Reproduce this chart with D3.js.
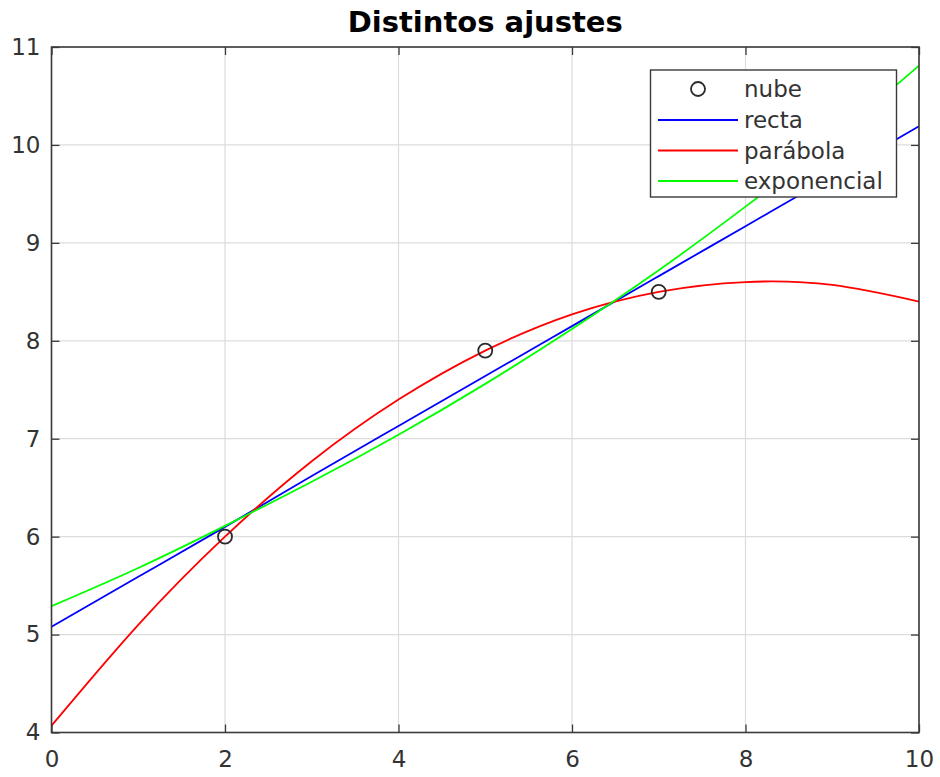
<!DOCTYPE html>
<html><head><meta charset="utf-8">
<script src="https://cdn.jsdelivr.net/npm/d3@7"></script>
<style>
body{margin:0;background:#fff;}
svg{display:block;font-family:"DejaVu Sans",sans-serif;}
</style></head>
<body><svg id="c" width="940" height="777"></svg>
<script>
const title = "Distintos ajustes";
const cloudX = [2, 5, 7];
const cloudY = [6.0, 7.9, 8.5];
const fitX = [0, 1, 2, 3, 4, 5, 6, 7, 8, 9, 10];
const recta = [5.08, 5.59, 6.10, 6.62, 7.13, 7.64, 8.15, 8.66, 9.17, 9.68, 10.19];
const parabola = [4.07, 5.10, 6.00, 6.77, 7.40, 7.90, 8.27, 8.50, 8.60, 8.57, 8.40];
const exponencial = [5.29, 5.68, 6.11, 6.56, 7.04, 7.56, 8.12, 8.72, 9.37, 10.06, 10.81];
const xTicks = [0, 2, 4, 6, 8, 10];
const yTicks = [4, 5, 6, 7, 8, 9, 10, 11];
const legendLabels = ["nube", "recta", "parábola", "exponencial"];
const colors = {recta: "#0000ff", parabola: "#ff0000", exponencial: "#00ff00"};

const L = 51.5, R = 919, T = 47, B = 732.5;
const svg = d3.select("#c");
const x = d3.scaleLinear().domain([0, 10]).range([L, R]);
const y = d3.scaleLinear().domain([4, 11]).range([B, T]);
const axisCol = "#3a3a3a", gridCol = "#dcdcdc", textCol = "#333";

// grid
svg.append("g").selectAll("line").data(xTicks).join("line")
  .attr("x1", d => x(d)).attr("x2", d => x(d)).attr("y1", T).attr("y2", B)
  .attr("stroke", gridCol).attr("stroke-width", 1.2);
svg.append("g").selectAll("line").data(yTicks).join("line")
  .attr("y1", d => y(d)).attr("y2", d => y(d)).attr("x1", L).attr("x2", R)
  .attr("stroke", gridCol).attr("stroke-width", 1.2);

// curves
svg.append("clipPath").attr("id", "clip").append("rect")
  .attr("x", L).attr("y", T).attr("width", R - L).attr("height", B - T);
const line = d3.line().x(d => x(d[0])).y(d => y(d[1])).curve(d3.curveNatural);
const plotG = svg.append("g").attr("clip-path", "url(#clip)");
[["recta", recta], ["parabola", parabola], ["exponencial", exponencial]].forEach(([k, v]) => {
  plotG.append("path").datum(fitX.map((xx, i) => [xx, v[i]]))
    .attr("d", line).attr("fill", "none").attr("stroke", colors[k]).attr("stroke-width", 1.8);
});
// cloud points
svg.append("g").selectAll("circle").data(cloudX.map((xx, i) => [xx, cloudY[i]])).join("circle")
  .attr("cx", d => x(d[0])).attr("cy", d => y(d[1])).attr("r", 7)
  .attr("fill", "none").attr("stroke", "#2a2a2a").attr("stroke-width", 1.8);

// axes (Octave box style, inward ticks on all sides)
const tickLen = 8;
const axB = d3.axisBottom(x).tickValues(xTicks).tickSize(tickLen).tickFormat(d3.format("d"));
const gB = svg.append("g").attr("transform", `translate(0,${B})`).call(axB);
gB.selectAll(".tick line").attr("y2", -tickLen);
gB.selectAll(".tick text").attr("y", 18).attr("dy", "0.71em");
const axL = d3.axisLeft(y).tickValues(yTicks).tickSize(tickLen).tickFormat(d3.format("d"));
const gL = svg.append("g").attr("transform", `translate(${L},0)`).call(axL);
gL.selectAll(".tick line").attr("x2", tickLen);
gL.selectAll(".tick text").attr("x", -11);
const gT = svg.append("g").attr("transform", `translate(0,${T})`).call(d3.axisTop(x).tickValues(xTicks).tickSize(tickLen).tickFormat(""));
gT.selectAll(".tick line").attr("y2", tickLen);
const gR = svg.append("g").attr("transform", `translate(${R},0)`).call(d3.axisRight(y).tickValues(yTicks).tickSize(tickLen).tickFormat(""));
gR.selectAll(".tick line").attr("x2", -tickLen);
[gB, gL, gT, gR].forEach(g => {
  g.select(".domain").remove();
  g.selectAll(".tick line").attr("stroke", axisCol).attr("stroke-width", 1.3);
  g.selectAll(".tick text").attr("fill", textCol).attr("font-size", 23).attr("font-family", "DejaVu Sans");
});
svg.append("rect").attr("x", L).attr("y", T).attr("width", R - L).attr("height", B - T)
  .attr("fill", "none").attr("stroke", axisCol).attr("stroke-width", 1.6);

// title
svg.append("text").attr("x", (L + R) / 2).attr("y", 32).attr("text-anchor", "middle")
  .attr("font-size", 29).attr("font-weight", "bold").attr("fill", "#000").text(title);

// legend
const lg = svg.append("g");
lg.append("rect").attr("x", 650.5).attr("y", 70).attr("width", 246).attr("height", 127)
  .attr("fill", "#fff").attr("stroke", axisCol).attr("stroke-width", 1.4);
const rowY = [89, 120, 150.5, 181];
const legCols = [null, colors.recta, colors.parabola, colors.exponencial];
legendLabels.forEach((lab, i) => {
  if (i === 0) {
    lg.append("circle").attr("cx", 698).attr("cy", rowY[i]).attr("r", 7)
      .attr("fill", "none").attr("stroke", "#2a2a2a").attr("stroke-width", 1.8);
  } else {
    lg.append("line").attr("x1", 658).attr("x2", 738).attr("y1", rowY[i]).attr("y2", rowY[i])
      .attr("stroke", legCols[i]).attr("stroke-width", 1.8);
  }
  lg.append("text").attr("x", 744).attr("y", rowY[i]).attr("dy", "0.35em")
    .attr("font-size", 23).attr("fill", textCol).text(lab);
});
</script></body></html>
